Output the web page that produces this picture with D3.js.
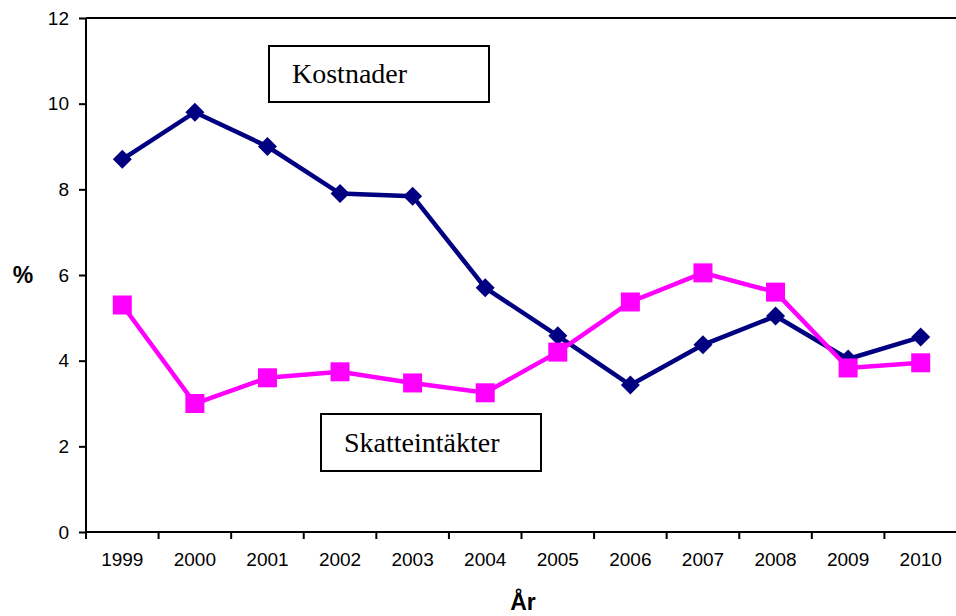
<!DOCTYPE html>
<html>
<head>
<meta charset="utf-8">
<script src="https://cdn.jsdelivr.net/npm/d3@7"></script>
<style>
  body { margin: 0; background: #fff; }
  .axis text { font-family: "Liberation Sans", Arial, sans-serif; font-size: 19px; fill: #000; }
  .axis path, .axis line { stroke: #000; stroke-width: 2px; }
</style>
</head>
<body>
<div id="chart"></div>
<script>
// data
var years = ["1999","2000","2001","2002","2003","2004","2005","2006","2007","2008","2009","2010"]
var kostnader = [8.7, 9.8, 9.0, 7.9, 7.84, 5.7, 4.58, 3.43, 4.37, 5.04, 4.04, 4.55]
var skatteintakter = [5.3, 3.0, 3.6, 3.74, 3.48, 3.25, 4.2, 5.37, 6.05, 5.6, 3.83, 3.95]
var yTicks = [0, 2, 4, 6, 8, 10, 12]

var margin = { top: 18, right: -1, bottom: 84, left: 86 }
var width = 956 - margin.left - margin.right,
    height = 616 - margin.top - margin.bottom

var svg = d3.select("#chart").append("svg")
  .attr("width", 956)
  .attr("height", 616)
  .append("g")
  .attr("transform", "translate(" + margin.left + "," + margin.top + ")")

var xPositionScale = d3.scaleBand().domain(years).range([0, width])
var yPositionScale = d3.scaleLinear().domain([0, 12]).range([height, 0])

// top border of plot area
svg.append("line")
  .attr("x1", 0).attr("x2", width + 2)
  .attr("y1", 0).attr("y2", 0)
  .attr("stroke", "#000").attr("stroke-width", 2)

// axes
var yAxis = d3.axisLeft(yPositionScale).tickValues(yTicks).tickSize(7).tickPadding(10)
svg.append("g")
  .attr("class", "axis y-axis")
  .call(yAxis)
  .call(g => g.select(".domain").attr("d", "M0," + height + "V0"))

var xAxis = d3.axisBottom(xPositionScale).tickSize(0).tickPadding(21)
var xg = svg.append("g")
  .attr("class", "axis x-axis")
  .attr("transform", "translate(0," + height + ")")
  .call(xAxis)
xg.select(".domain").attr("d", "M0,0H" + (width + 2))
// tick marks sit between the categories
xg.selectAll(".sep")
  .data(years.concat(["end"]))
  .enter().append("line")
  .attr("class", "sep")
  .attr("x1", (d, i) => i * xPositionScale.step())
  .attr("x2", (d, i) => i * xPositionScale.step())
  .attr("y1", 0).attr("y2", 7)

var cx = d => xPositionScale(d) + xPositionScale.bandwidth() / 2

var line = d3.line()
  .x((d, i) => cx(years[i]))
  .y(d => yPositionScale(d))

// Kostnader
svg.append("path")
  .datum(kostnader)
  .attr("d", line)
  .attr("fill", "none")
  .attr("stroke", "#000080")
  .attr("stroke-width", 4.5)

svg.selectAll(".diamond")
  .data(kostnader)
  .enter().append("path")
  .attr("class", "diamond")
  .attr("d", d3.symbol().type(d3.symbolDiamond2).size(230))
  .attr("transform", (d, i) => "translate(" + cx(years[i]) + "," + yPositionScale(d) + ")")
  .attr("fill", "#000080")

// Skatteintakter
svg.append("path")
  .datum(skatteintakter)
  .attr("d", line)
  .attr("fill", "none")
  .attr("stroke", "#ff00ff")
  .attr("stroke-width", 4.5)

svg.selectAll(".square")
  .data(skatteintakter)
  .enter().append("rect")
  .attr("class", "square")
  .attr("x", (d, i) => cx(years[i]) - 9.5)
  .attr("y", d => yPositionScale(d) - 9.5)
  .attr("width", 19)
  .attr("height", 19)
  .attr("fill", "#ff00ff")

// label boxes
function labelBox(x, y, w, h, txt) {
  svg.append("rect")
    .attr("x", x - margin.left).attr("y", y - margin.top)
    .attr("width", w).attr("height", h)
    .attr("fill", "#fff")
    .attr("stroke", "#000").attr("stroke-width", 2)
  svg.append("text")
    .attr("x", x - margin.left + 23).attr("y", y - margin.top + h / 2 + 9)
    .attr("font-family", "'Liberation Serif', 'Times New Roman', serif")
    .attr("font-size", 28)
    .text(txt)
}
labelBox(269, 46, 220, 56, "Kostnader")
labelBox(321, 414, 220, 57, "Skatteintäkter")

// axis titles
svg.append("text")
  .attr("x", 23 - margin.left).attr("y", 283 - margin.top)
  .attr("text-anchor", "middle")
  .attr("font-family", "'Liberation Sans', Arial, sans-serif")
  .attr("font-weight", "bold").attr("font-size", 23)
  .text("%")

svg.append("text")
  .attr("x", 523 - margin.left).attr("y", 610 - margin.top)
  .attr("text-anchor", "middle")
  .attr("font-family", "'Liberation Sans', Arial, sans-serif")
  .attr("font-weight", "bold").attr("font-size", 23)
  .text("År")
</script>
</body>
</html>
